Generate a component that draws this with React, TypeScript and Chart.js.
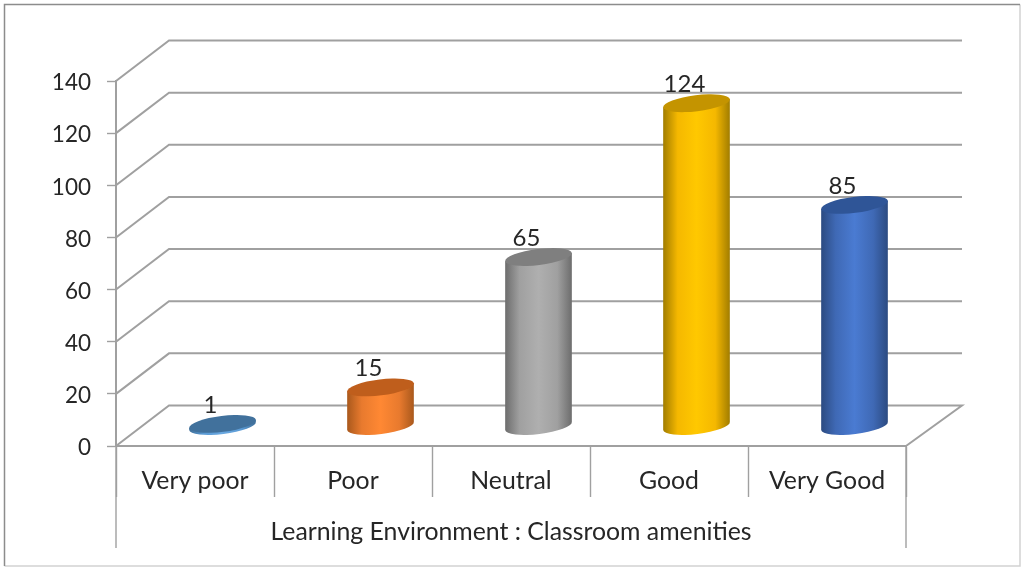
import React, { useEffect, useRef } from "react";
import { Chart, registerables } from "chart.js";

Chart.register(...registerables);

const categories = ["Very poor", "Poor", "Neutral", "Good", "Very Good"];
const values = [1, 15, 65, 124, 85];
const axisTitle = "Learning Environment : Classroom amenities";
const sideColors = ["#5b9bd5", "#e87a2e", "#a0a0a0", "#f5b800", "#3f69b5"];
const glowColors = ["#6aa8e0", "#ff8833", "#afafaf", "#ffc800", "#4a7bd2"];
const edgeColors = ["#3f6f99", "#a8581c", "#6c6c6c", "#a07c00", "#2b4a80"];
const topColors = ["#41719c", "#bf5e1c", "#7f7f7f", "#c49400", "#2f5597"];

const FONT = "Lato, Carlito, sans-serif";
const INK = "#262626";
const LINE = "#a0a0a0";
const rot = (-7 * Math.PI) / 180;
const RY = 8;
const MID_DX = 27.5;
const MID_DY = -19.5;

const cylinderPlugin = {
  id: "cylinders",
  beforeDraw(chart: any) {
    const { ctx, width, height } = chart;
    ctx.save();
    ctx.fillStyle = "#fff";
    ctx.fillRect(0, 0, width, height);
    ctx.lineWidth = 1.5;
    ctx.strokeStyle = "#d2d2d2";
    ctx.beginPath();
    ctx.moveTo(1020, 4.5);
    ctx.lineTo(1020, 566);
    ctx.lineTo(4.5, 566);
    ctx.stroke();
    ctx.strokeStyle = "#8c8c8c";
    ctx.beginPath();
    ctx.moveTo(4.5, 566);
    ctx.lineTo(4.5, 4.5);
    ctx.lineTo(1020, 4.5);
    ctx.stroke();
    ctx.restore();
  },
  beforeDatasetsDraw(chart: any) {
    const { ctx, scales } = chart;
    const { x, y } = scales;
    const L = x.left;
    const R = x.right;
    ctx.save();
    ctx.strokeStyle = LINE;
    ctx.lineWidth = 2;
    y.ticks.forEach((t: any) => {
      const py = y.getPixelForValue(t.value);
      const back = py - 40.5;
      ctx.beginPath();
      ctx.moveTo(L, py);
      ctx.lineTo(L + 53, back);
      ctx.lineTo(R + 56, back);
      if (t.value === 0) ctx.lineTo(R, py);
      ctx.stroke();
    });
    ctx.lineWidth = 1.4;
    ctx.beginPath();
    ctx.moveTo(L, y.bottom);
    ctx.lineTo(L, 548);
    ctx.moveTo(R, y.bottom);
    ctx.lineTo(R, 548);
    ctx.stroke();
    ctx.restore();
  },
  beforeDatasetDraw(chart: any) {
    const { ctx } = chart;
    const meta = chart.getDatasetMeta(0);
    meta.data.forEach((el: any, i: number) => {
      const rx = el.width / 2;
      const cx = el.x + MID_DX;
      const top = el.y + MID_DY;
      const base = el.base + MID_DY;
      const sx = rx * Math.cos(rot);
      const sy = rx * Math.sin(rot);
      const g = ctx.createLinearGradient(cx - rx, 0, cx + rx, 0);
      g.addColorStop(0, edgeColors[i]);
      g.addColorStop(0.22, sideColors[i]);
      g.addColorStop(0.5, glowColors[i]);
      g.addColorStop(0.78, sideColors[i]);
      g.addColorStop(1, edgeColors[i]);
      ctx.save();
      ctx.fillStyle = g;
      ctx.beginPath();
      ctx.ellipse(cx, base, rx, RY, rot, 0, Math.PI);
      ctx.lineTo(cx - sx, top - sy);
      ctx.lineTo(cx + sx, top + sy);
      ctx.closePath();
      ctx.fill();
      ctx.fillStyle = topColors[i];
      ctx.beginPath();
      ctx.ellipse(cx, top, rx, RY, rot, 0, Math.PI * 2);
      ctx.fill();
      ctx.restore();
    });
    return false;
  },
  afterDatasetsDraw(chart: any) {
    const { ctx } = chart;
    const meta = chart.getDatasetMeta(0);
    ctx.save();
    ctx.fillStyle = INK;
    ctx.font = `24px ${FONT}`;
    ctx.textAlign = "center";
    ctx.textBaseline = "middle";
    meta.data.forEach((el: any, i: number) => {
      ctx.fillText(String(values[i]), el.x + MID_DX - 12, el.y + MID_DY - 19);
    });
    ctx.restore();
  },
};

export default function App() {
  const ref = useRef<HTMLCanvasElement | null>(null);
  useEffect(() => {
    if (!ref.current) return;
    const chart = new Chart(ref.current, {
      type: "bar",
      data: {
        labels: categories,
        datasets: [
          {
            data: values,
            backgroundColor: sideColors,
            barPercentage: 0.85,
            categoryPercentage: 0.5,
          },
        ],
      },
      options: {
        responsive: false,
        animation: false,
        events: [],
        layout: { padding: { left: 0, top: 81, right: 115, bottom: 0 } },
        plugins: { legend: { display: false }, tooltip: { enabled: false }, title: { display: false } },
        scales: {
          x: {
            type: "category",
            offset: true,
            afterFit(scale: any) {
              scale.height = 121;
            },
            border: { color: LINE, width: 2 },
            grid: {
              offset: true,
              drawOnChartArea: false,
              tickLength: 51,
              tickWidth: 1.4,
              tickColor: LINE,
              color: LINE,
            },
            ticks: {
              color: INK,
              padding: -31,
              maxRotation: 0,
              font: { family: FONT, size: 24.8 },
            },
            title: {
              display: true,
              text: axisTitle,
              color: INK,
              font: { family: FONT, size: 24.8, lineHeight: 1.2 },
              padding: { top: 0, bottom: 20 },
            },
          },
          y: {
            type: "linear",
            min: 0,
            max: 140,
            afterFit(scale: any) {
              scale.width = 116;
            },
            border: { color: LINE, width: 2 },
            grid: {
              drawOnChartArea: false,
              tickLength: 9,
              tickColor: LINE,
              color: LINE,
              tickWidth: 1.4,
            },
            ticks: {
              stepSize: 20,
              color: INK,
              padding: 16,
              labelOffset: 2,
              font: { family: FONT, size: 22.5 },
            },
          },
        },
      },
      plugins: [cylinderPlugin],
    } as any);
    return () => chart.destroy();
  }, []);
  return (
    <div style={{ position: "fixed", left: 0, top: 0, width: 1021, height: 567, background: "#fff" }}>
      <canvas ref={ref} width={1021} height={567} style={{ display: "block" }} />
    </div>
  );
}
